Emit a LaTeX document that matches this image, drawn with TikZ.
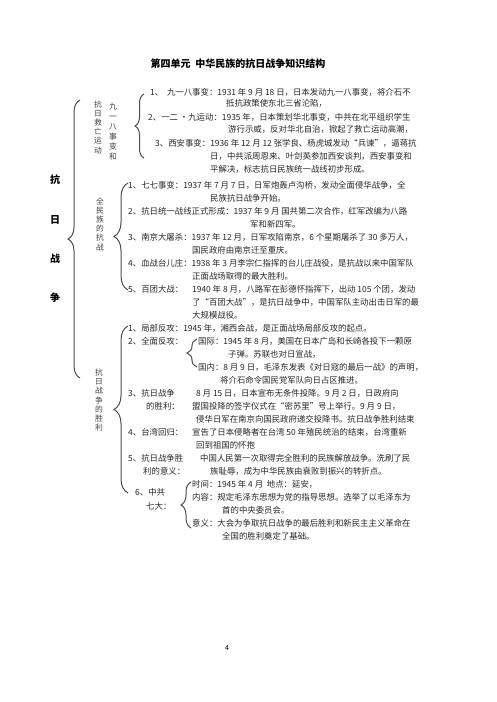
\documentclass[tikz,border=0pt]{standalone}
\usepackage{fontspec}
\setmainfont{Noto Sans CJK SC}
\usetikzlibrary{decorations.pathreplacing}

\begin{document}
\begin{tikzpicture}
      [x=1pt,y=-1pt,%%%%%%%%%%%%%%%%%%%%%%%%%%%%%%
      line/.style={anchor=west,inner sep=0pt,font=\fontsize{8.4}{10}\selectfont,text=black!85},
      vert/.style={align=center,inner sep=0pt,font=\fontsize{7.8}{9.2}\selectfont,text=black!75},
      big/.style={inner sep=0pt,font=\fontsize{10}{12}\selectfont\bfseries},
      bracket/.style={draw=black!70,line width=1pt,decorate,decoration={brace,amplitude=#1}},
      ]%%%%%%%%%%%%%%%%%%%%%%%%%%%%%%
      \useasboundingbox (0,0) rectangle (496,702);

      \node[big] (title) at (238,64) {第四单元\ \ 中华民族的抗日战争知识结构};

      % main brace
      \node[big] (k1) at (55,180) {抗};
      \node[big] (k2) at (55,220) {日};
      \node[big] (k3) at (55,259) {战};
      \node[big] (k4) at (55,298) {争};
      \draw[bracket=12] (80,378) -- (80,100);

      % jiuyiba and jiuwang
      \node[vert] (v1a) at (98,127) {抗\\日\\救\\亡\\运\\动};
      \node[vert,font=\fontsize{7.8}{10}\selectfont] (v1b) at (113,132) {九\\一\\八\\事\\变\\和};
      \draw[bracket=9] (144,158) -- (144,94);
      \node[line] (a1) at (150,92) {1、\ \ 九一八事变：1931 年 9 月 18 日，日本发动九一八事变，将介石不};
      \node[line] (a1b) at (226,103) {抵抗政策使东北三省沦陷，};
      \node[line] (a2) at (148,117) {2、一二 ·九运动：1935 年，日本策划华北事变，中共在北平组织学生};
      \node[line] (a2b) at (228,129) {游行示威，反对华北自治，掀起了救亡运动高潮，};
      \node[line] (a3) at (155,143) {3、西安事变：1936 年 12 月 12 张学良、杨虎城发动“兵谏”，逼蒋抗};
      \node[line] (a3b) at (210,156) {日，中共派周恩来、叶剑英参加西安谈判，西安事变和};
      \node[line] (a3c) at (210,169) {平解决，标志抗日民族统一战线初步形成。};

      % quanminzu
      \node[vert] (v2) at (100,224) {全\\民\\族\\的\\抗\\战};
      \draw[bracket=14] (128,290) -- (128,183);
      \node[line] (b1) at (128,185) {1、七七事变：1937 年 7 月 7 日，日军炮轰卢沟桥，发动全面侵华战争，全};
      \node[line] (b1b) at (210,198) {民族抗日战争开始。};
      \node[line] (b2) at (128,211) {2、抗日统一战线正式形成：1937 年 9 月 国共第二次合作，红军改编为八路};
      \node[line] (b2b) at (250,224) {军和新四军。};
      \node[line] (b3) at (128,237) {3、南京大屠杀：1937 年 12 月，日军攻陷南京，6 个星期屠杀了 30 多万人，};
      \node[line] (b3b) at (192,250) {国民政府由南京迁至重庆。};
      \node[line] (b4) at (128,263) {4、血战台儿庄：1938 年 3 月李宗仁指挥的台儿庄战役，是抗战以来中国军队};
      \node[line] (b4b) at (192,276) {正面战场取得的最大胜利。};
      \node[line] (b5) at (128,289) {5、百团大战：};
      \node[line] (b5a) at (192,289) {1940 年 8 月，八路军在彭德怀指挥下，出动 105 个团，发动};
      \node[line] (b5b) at (192,302) {了“百团大战”，是抗日战争中，中国军队主动出击日军的最};
      \node[line] (b5c) at (192,315) {大规模战役。};

      % shengli
      \node[vert] (v3) at (99,400) {抗\\日\\战\\争\\的\\胜\\利};
      \draw[bracket=14] (128,493) -- (128,326);
      \node[line] (c1) at (128,328) {1、局部反攻：1945 年，湘西会战，是正面战场局部反攻的起点。};
      \node[line] (c2) at (128,341) {2、全面反攻：};
      \draw[bracket=10] (197,367) -- (197,339);
      \node[line] (c2a) at (198,341) {国际：1945 年 8 月，美国在日本广岛和长崎各投下一颗原};
      \node[line] (c2b) at (228,354) {子弹。苏联也对日宣战，};
      \node[line] (c2c) at (198,367) {国内：8 月 9 日，毛泽东发表《对日寇的最后一战》的声明，};
      \node[line] (c2d) at (220,380) {将介石命令国民党军队向日占区推进。};
      \node[line] (c3) at (128,393) {3、抗日战争};
      \node[line] (c3x) at (146,406) {的胜利：};
      \node[line] (c3a) at (196,393) {8 月 15 日，日本宣布无条件投降。9 月 2 日，日政府向};
      \node[line] (c3b) at (192,406) {盟国投降的签字仪式在“密苏里”号上举行。9 月 9 日，};
      \node[line] (c3c) at (196,419) {侵华日军在南京向国民政府递交投降书。抗日战争胜利结束};
      \node[line] (c4) at (128,432) {4、台湾回归：};
      \node[line] (c4a) at (192,432) {宣告了日本侵略者在台湾 50 年殖民统治的结束，台湾重新};
      \node[line] (c4b) at (196,445) {回到祖国的怀抱};
      \node[line] (c5) at (128,458) {5、抗日战争胜};
      \node[line] (c5x) at (143,471) {利的意义：};
      \node[line] (c5a) at (200,458) {中国人民第一次取得完全胜利的民族解放战争。洗刷了民};
      \node[line] (c5b) at (210,471) {族耻辱，成为中华民族由衰败到振兴的转折点。};
      \node[line] (c6) at (135,492) {6、中共};
      \node[line] (c6x) at (146,506) {七大：};
      \draw[bracket=10] (191,528) -- (191,482);
      \node[line] (c6a) at (192,484) {时间：1945 年 4 月\ \ 地点：延安，};
      \node[line] (c6b) at (192,497) {内容：规定毛泽东思想为党的指导思想。选举了以毛泽东为};
      \node[line] (c6c) at (222,510) {首的中央委员会。};
      \node[line] (c6d) at (192,523) {意义：大会为争取抗日战争的最后胜利和新民主主义革命在};
      \node[line] (c6e) at (222,536) {全国的胜利奠定了基础。};

      \node[inner sep=0pt,font=\fontsize{7}{8}\selectfont] (page) at (227,648) {4};
\end{tikzpicture}
\end{document}
